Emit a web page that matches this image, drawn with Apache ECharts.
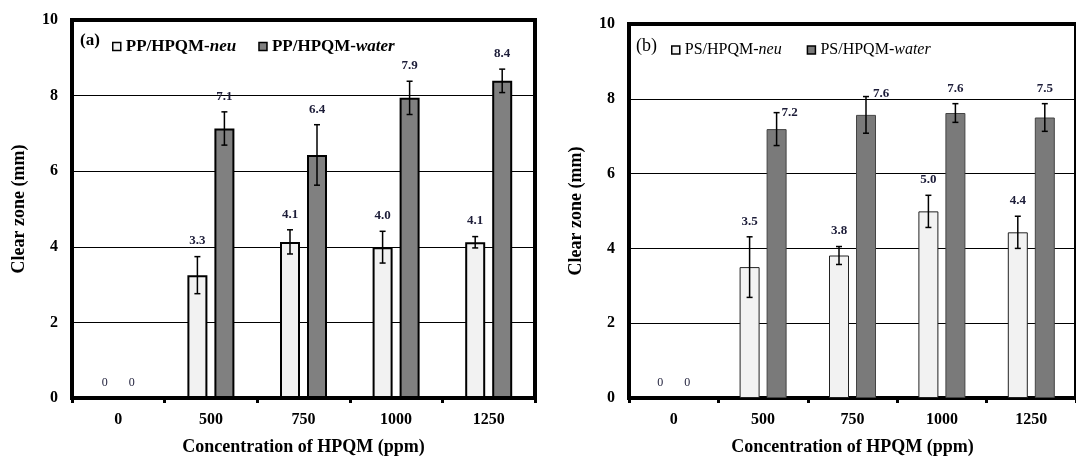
<!DOCTYPE html>
<html>
<head>
<meta charset="utf-8">
<script src="https://cdn.jsdelivr.net/npm/echarts@6/dist/echarts.min.js"></script>
<style>
html,body{margin:0;padding:0;background:#fff;}
#c{width:1076px;height:461px;}
</style>
</head>
<body>
<div id="c"></div>
<script>
// ---- data ----
const categories = ['0', '500', '750', '1000', '1250'];
const ppNeu      = [0, 3.25, 4.13, 3.99, 4.12];
const ppNeuErr   = [0, 0.49, 0.32, 0.42, 0.15];
const ppWater    = [0, 7.13, 6.43, 7.94, 8.39];
const ppWaterErr = [0, 0.44, 0.80, 0.44, 0.31];
const psNeu      = [0, 3.50, 3.81, 4.99, 4.43];
const psNeuErr   = [0, 0.81, 0.24, 0.43, 0.43];
const psWater    = [0, 7.19, 7.57, 7.62, 7.50];
const psWaterErr = [0, 0.44, 0.49, 0.25, 0.37];
const yTicks = [0, 2, 4, 6, 8, 10];

const SERIF = '"Liberation Serif", "Times New Roman", serif';
const LABEL_COLOR = '#1c1c38';
const BAR_W = 20;
const OFF = 13.5;

function barData(values) {
  return values.map(v => v === 0 ? { value: v, itemStyle: { borderWidth: 0, opacity: 0 } } : v);
}

function errorSeries(xi, yi, values, errs, side, shifts) {
  return {
    type: 'custom', xAxisIndex: xi, yAxisIndex: yi, z: 10, silent: true,
    data: values.map((v, i) => [i, v, errs[i]]),
    renderItem: function (params, api) {
      const i = api.value(0), v = api.value(1), e = api.value(2);
      const c = api.coord([i, v]);
      const x = c[0] + side * OFF;
      const top = api.coord([i, v + e])[1];
      const bot = api.coord([i, v - e])[1];
      const children = [];
      const ls = { stroke: '#000', lineWidth: 1.5 };
      if (e > 0) {
        children.push({ type: 'line', shape: { x1: x, y1: top, x2: x, y2: bot }, style: ls });
        children.push({ type: 'line', shape: { x1: x - 3, y1: top, x2: x + 3, y2: top }, style: ls });
        children.push({ type: 'line', shape: { x1: x - 3, y1: bot, x2: x + 3, y2: bot }, style: ls });
      }
      const txt = v === 0 ? '0' : v.toFixed(1);
      const sh = shifts && shifts[i];
      if (sh) {
        children.push({ type: 'text', x: x + sh[0], y: top + sh[1],
          style: { text: txt, textAlign: 'left', textVerticalAlign: 'middle',
            font: 'bold 13px ' + SERIF, fill: LABEL_COLOR } });
      } else {
        children.push({ type: 'text', x: x, y: top - 9,
          style: { text: txt, textAlign: 'center', textVerticalAlign: 'bottom',
            font: (v === 0 ? '12px ' : 'bold 13px ') + SERIF, fill: LABEL_COLOR } });
      }
      return { type: 'group', children: children };
    }
  };
}

function xAxisCfg(gi) {
  return {
    type: 'category', gridIndex: gi, data: categories,
    axisLine: { lineStyle: { color: '#000', width: 4 } },
    axisTick: { show: true, length: 5, lineStyle: { color: '#000', width: 3 } },
    axisLabel: { color: '#000', fontFamily: SERIF, fontWeight: 'bold', fontSize: 16, margin: 14 },
    name: 'Concentration of HPQM (ppm)', nameLocation: 'middle', nameGap: 40,
    nameTextStyle: { color: '#000', fontFamily: SERIF, fontWeight: 'bold', fontSize: 18 }
  };
}
function yAxisCfg(gi) {
  return {
    type: 'value', gridIndex: gi, min: yTicks[0], max: yTicks[yTicks.length - 1], interval: yTicks[1] - yTicks[0],
    axisLine: { show: true, lineStyle: { color: '#000', width: 4 } },
    axisTick: { show: false },
    splitLine: { lineStyle: { color: '#000', width: 1 } },
    axisLabel: { color: '#000', fontFamily: SERIF, fontWeight: 'bold', fontSize: 16, margin: 14 },
    name: 'Clear zone (mm)', nameLocation: 'middle', nameGap: 44,
    nameTextStyle: { color: '#000', fontFamily: SERIF, fontWeight: 'bold', fontSize: 18 }
  };
}
function legendFmt(name) {
  const k = name.lastIndexOf('-');
  return '{n|' + name.slice(0, k + 1) + '}{i|' + name.slice(k + 1) + '}';
}

const chart = echarts.init(document.getElementById('c'), null, { renderer: 'canvas' });
chart.setOption({
  animation: false,
  backgroundColor: '#fff',
  grid: [
    { left: 72, top: 20, right: 541, bottom: 61, show: true, borderColor: '#000', borderWidth: 4 },
    { left: 629, top: 24, right: -7, bottom: 62, show: true, borderColor: '#000', borderWidth: 4 }
  ],
  xAxis: [xAxisCfg(0), xAxisCfg(1)],
  yAxis: [yAxisCfg(0), yAxisCfg(1)],
  legend: [
    { data: ['PP/HPQM-neu', 'PP/HPQM-water'], left: 107, top: 33, icon: 'rect',
      itemWidth: 8, itemHeight: 8, itemGap: 22, formatter: legendFmt,
      itemStyle: { borderWidth: 1.5, borderColor: '#000' },
      textStyle: { rich: {
        n: { fontFamily: SERIF, fontWeight: 'bold', fontSize: 17, color: '#000' },
        i: { fontFamily: SERIF, fontWeight: 'bold', fontStyle: 'italic', fontSize: 17, color: '#000' } } } },
    { data: ['PS/HPQM-neu', 'PS/HPQM-water'], left: 666, top: 37, icon: 'rect',
      itemWidth: 8, itemHeight: 8, itemGap: 25, formatter: legendFmt,
      itemStyle: { borderWidth: 1.5, borderColor: '#000' },
      textStyle: { rich: {
        n: { fontFamily: SERIF, fontSize: 16, color: '#000' },
        i: { fontFamily: SERIF, fontStyle: 'italic', fontSize: 16, color: '#000' } } } }
  ],
  graphic: [
    { type: 'text', left: 80, top: 32, style: { text: '(a)', font: 'bold 17px ' + SERIF, fill: '#000' } },
    { type: 'text', left: 636, top: 37, style: { text: '(b)', font: '18px ' + SERIF, fill: '#000' } }
  ],
  series: [
    { name: 'PP/HPQM-neu', type: 'bar', xAxisIndex: 0, yAxisIndex: 0, data: barData(ppNeu), barWidth: BAR_W, barGap: '35%',
      itemStyle: { color: '#f2f2f2', borderColor: '#000', borderWidth: 2 } },
    { name: 'PP/HPQM-water', type: 'bar', xAxisIndex: 0, yAxisIndex: 0, data: barData(ppWater), barWidth: BAR_W, barGap: '35%',
      itemStyle: { color: '#808080', borderColor: '#000', borderWidth: 2 } },
    { name: 'PS/HPQM-neu', type: 'bar', xAxisIndex: 1, yAxisIndex: 1, data: barData(psNeu), barWidth: BAR_W, barGap: '35%',
      itemStyle: { color: '#f2f2f2', borderColor: '#222', borderWidth: 1 } },
    { name: 'PS/HPQM-water', type: 'bar', xAxisIndex: 1, yAxisIndex: 1, data: barData(psWater), barWidth: BAR_W, barGap: '35%',
      itemStyle: { color: '#7a7a7a', borderColor: '#444', borderWidth: 1 } },
    errorSeries(0, 0, ppNeu, ppNeuErr, -1),
    errorSeries(0, 0, ppWater, ppWaterErr, 1),
    errorSeries(1, 1, psNeu, psNeuErr, -1),
    errorSeries(1, 1, psWater, psWaterErr, 1, { 1: [5, 0], 2: [7, -3] })
  ]
});
</script>
</body>
</html>
